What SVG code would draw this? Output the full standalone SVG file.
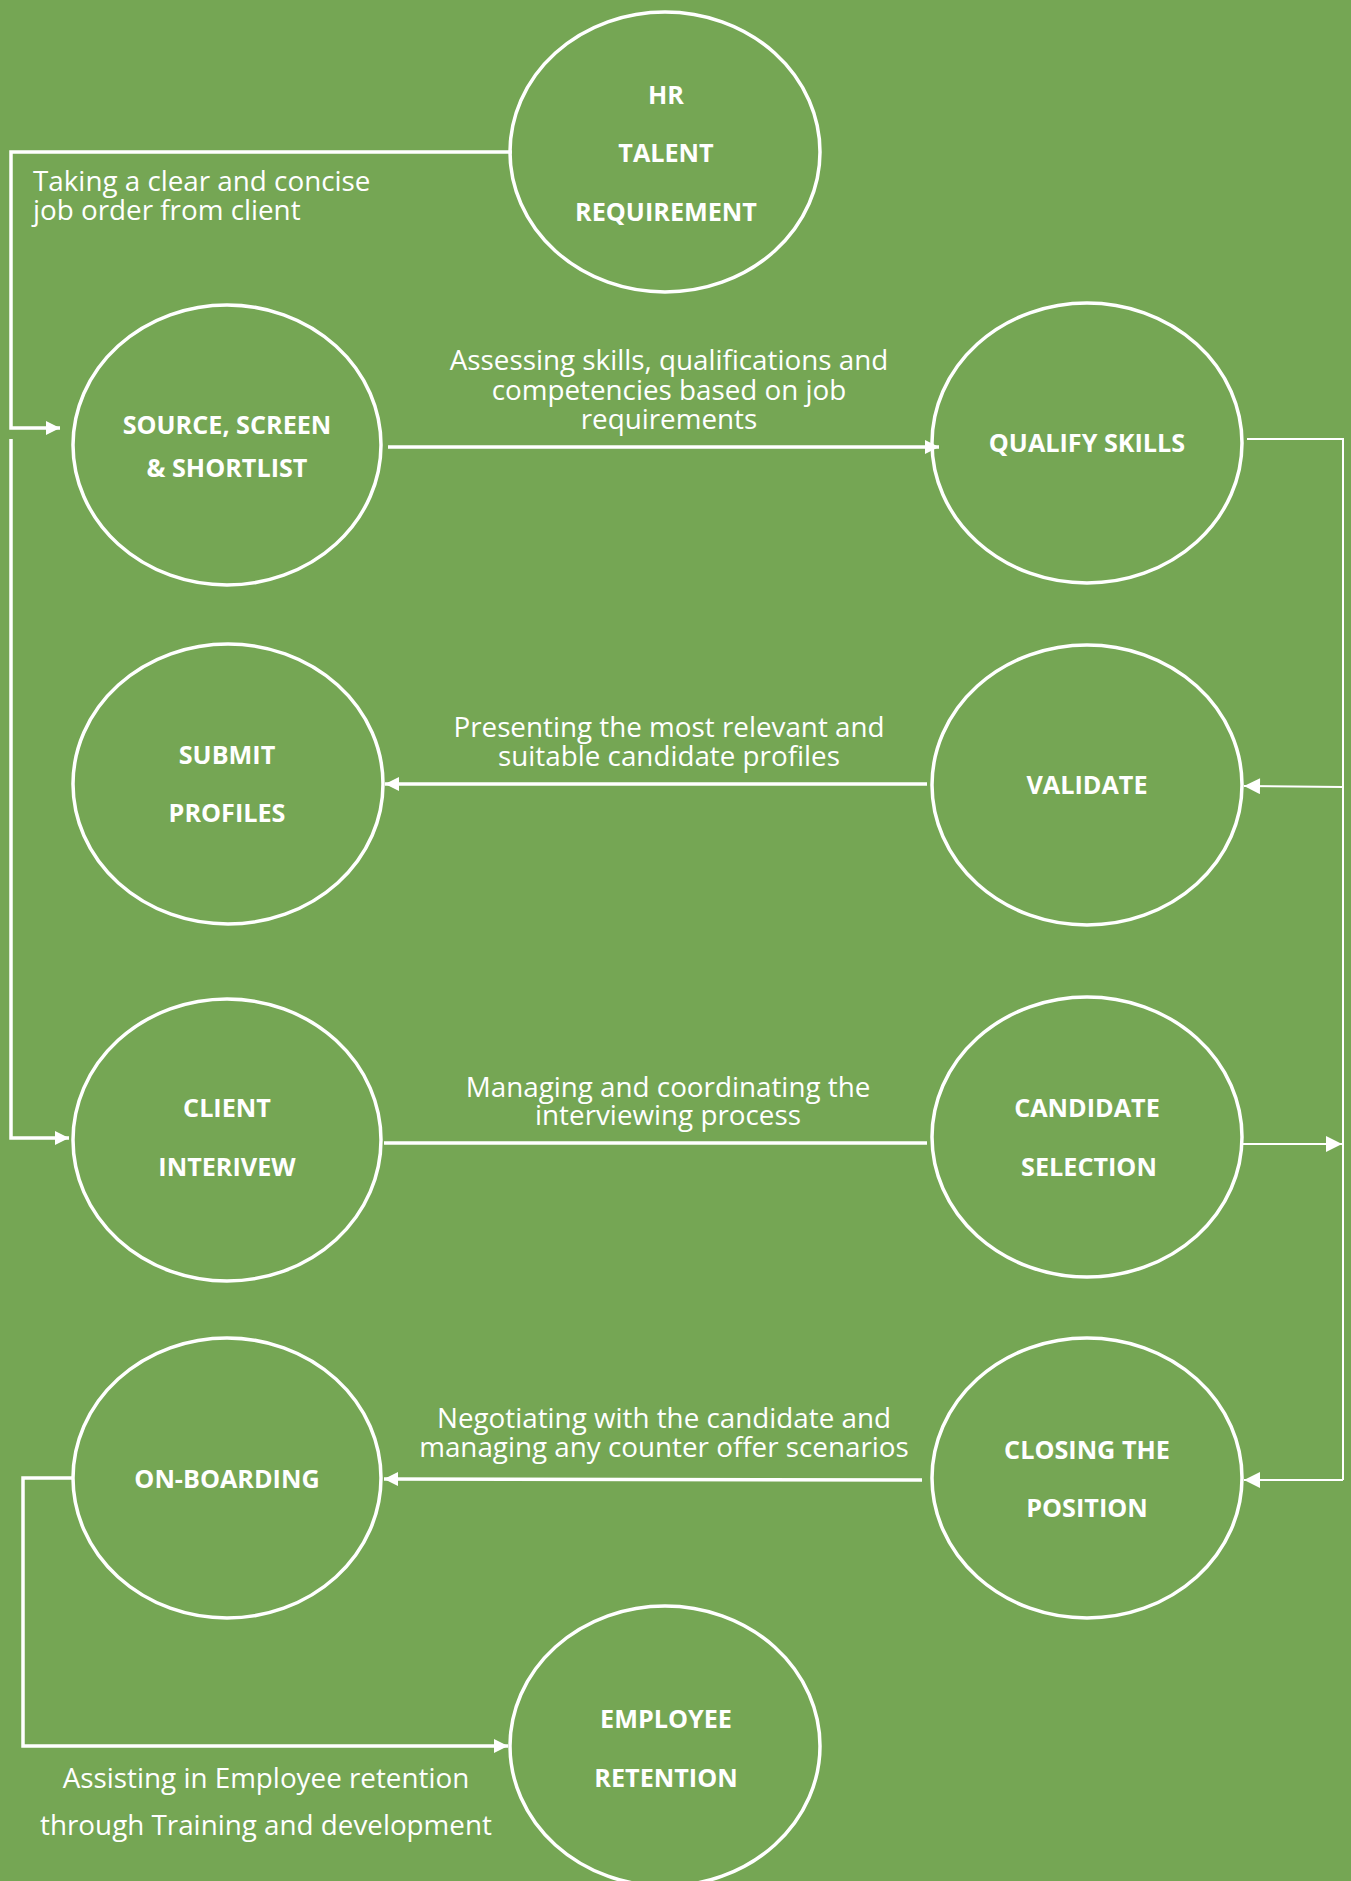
<svg xmlns="http://www.w3.org/2000/svg" width="1351" height="1881" viewBox="0 0 1351 1881">
<defs>
<style>
.node ellipse{fill:none;stroke:#fff;stroke-width:3.5}
.t{font-family:"Open Sans","Noto Sans","Liberation Sans",sans-serif;font-weight:700;font-size:25.2px;fill:#fff;text-anchor:middle}
.l{font-family:"Open Sans","Noto Sans","Liberation Sans",sans-serif;font-size:27.8px;fill:#fff;text-anchor:middle}
.c{fill:none;stroke:#fff;stroke-width:3.5}
.ct{fill:none;stroke:#fff;stroke-width:2}
</style>
<marker id="ah" viewBox="0 0 10 10" refX="10" refY="5" markerWidth="16" markerHeight="14" markerUnits="userSpaceOnUse" orient="auto"><path d="M0,0 L10,5 L0,10 z" fill="#fff"/></marker>
<marker id="ahs" viewBox="0 0 10 10" refX="10" refY="5" markerWidth="18" markerHeight="16" markerUnits="userSpaceOnUse" orient="auto"><path d="M0,0 L10,5 L0,10 z" fill="#fff"/></marker>
</defs>
<rect width="1351" height="1881" fill="#75A654"/>
<g id="connectors">
<polyline class="c" points="512,152 11,152 11,428 60,428" marker-end="url(#ah)"/>
<polyline class="c" points="11,439 11,1138 69,1138" marker-end="url(#ah)"/>
<line class="c" x1="388" y1="447" x2="939" y2="447" marker-end="url(#ah)"/>
<polyline class="ct" points="1247,439 1343,439 1343,1480"/>
<line class="ct" x1="1343" y1="787" x2="1244" y2="786" marker-end="url(#ahs)"/>
<line class="ct" x1="1243" y1="1144" x2="1342" y2="1144" marker-end="url(#ahs)"/>
<line class="ct" x1="1343" y1="1480" x2="1244" y2="1480" marker-end="url(#ahs)"/>
<line class="c" x1="927" y1="784" x2="385" y2="784" marker-end="url(#ah)"/>
<line class="c" x1="384" y1="1143" x2="927" y2="1143"/>
<line class="c" x1="922" y1="1480" x2="384" y2="1479" marker-end="url(#ah)"/>
<polyline class="c" points="72,1478 23,1478 23,1746 508,1746" marker-end="url(#ah)"/>
<text class="l" style="text-anchor:start" x="33" y="191">Taking a clear and concise</text>
<text class="l" style="text-anchor:start" x="33" y="220">job order from client</text>
<text class="l" x="669" y="370">Assessing skills, qualifications and</text>
<text class="l" x="669" y="400">competencies based on job</text>
<text class="l" x="669" y="429">requirements</text>
<text class="l" x="669" y="737">Presenting the most relevant and</text>
<text class="l" x="669" y="766">suitable candidate profiles</text>
<text class="l" x="668" y="1097">Managing and coordinating the</text>
<text class="l" x="668" y="1125">interviewing process</text>
<text class="l" x="664" y="1428">Negotiating with the candidate and</text>
<text class="l" x="664" y="1457">managing any counter offer scenarios</text>
<text class="l" x="266" y="1788">Assisting in Employee retention</text>
<text class="l" x="266" y="1835">through Training and development</text>
</g>
<g id="hr" class="node"><ellipse cx="665" cy="152" rx="155" ry="140"/>
<text class="t" x="666" y="104">HR</text><text class="t" x="666" y="162">TALENT</text><text class="t" x="666" y="221">REQUIREMENT</text></g>
<g id="source" class="node"><ellipse cx="227" cy="445" rx="154" ry="140"/>
<text class="t" x="227" y="434">SOURCE, SCREEN</text><text class="t" x="227" y="477">&amp; SHORTLIST</text></g>
<g id="qualify" class="node"><ellipse cx="1087" cy="443" rx="155" ry="140"/>
<text class="t" x="1087" y="452">QUALIFY SKILLS</text></g>
<g id="submit" class="node"><ellipse cx="228" cy="784" rx="155" ry="140"/>
<text class="t" x="227" y="764">SUBMIT</text><text class="t" x="227" y="822">PROFILES</text></g>
<g id="validate" class="node"><ellipse cx="1087" cy="785" rx="155" ry="140"/>
<text class="t" x="1087" y="794">VALIDATE</text></g>
<g id="client" class="node"><ellipse cx="227" cy="1140" rx="154" ry="141"/>
<text class="t" x="227" y="1117">CLIENT</text><text class="t" x="227" y="1176">INTERIVEW</text></g>
<g id="candidate" class="node"><ellipse cx="1087" cy="1137" rx="155" ry="140"/>
<text class="t" x="1087" y="1117">CANDIDATE</text><text class="t" x="1089" y="1176">SELECTION</text></g>
<g id="onboarding" class="node"><ellipse cx="227" cy="1478" rx="154" ry="140"/>
<text class="t" x="227" y="1488">ON-BOARDING</text></g>
<g id="closing" class="node"><ellipse cx="1087" cy="1478" rx="155" ry="140"/>
<text class="t" x="1087" y="1459">CLOSING THE</text><text class="t" x="1087" y="1517">POSITION</text></g>
<g id="employee" class="node"><ellipse cx="665" cy="1746" rx="155" ry="140"/>
<text class="t" x="666" y="1728">EMPLOYEE</text><text class="t" x="666" y="1787">RETENTION</text></g>
</svg>
